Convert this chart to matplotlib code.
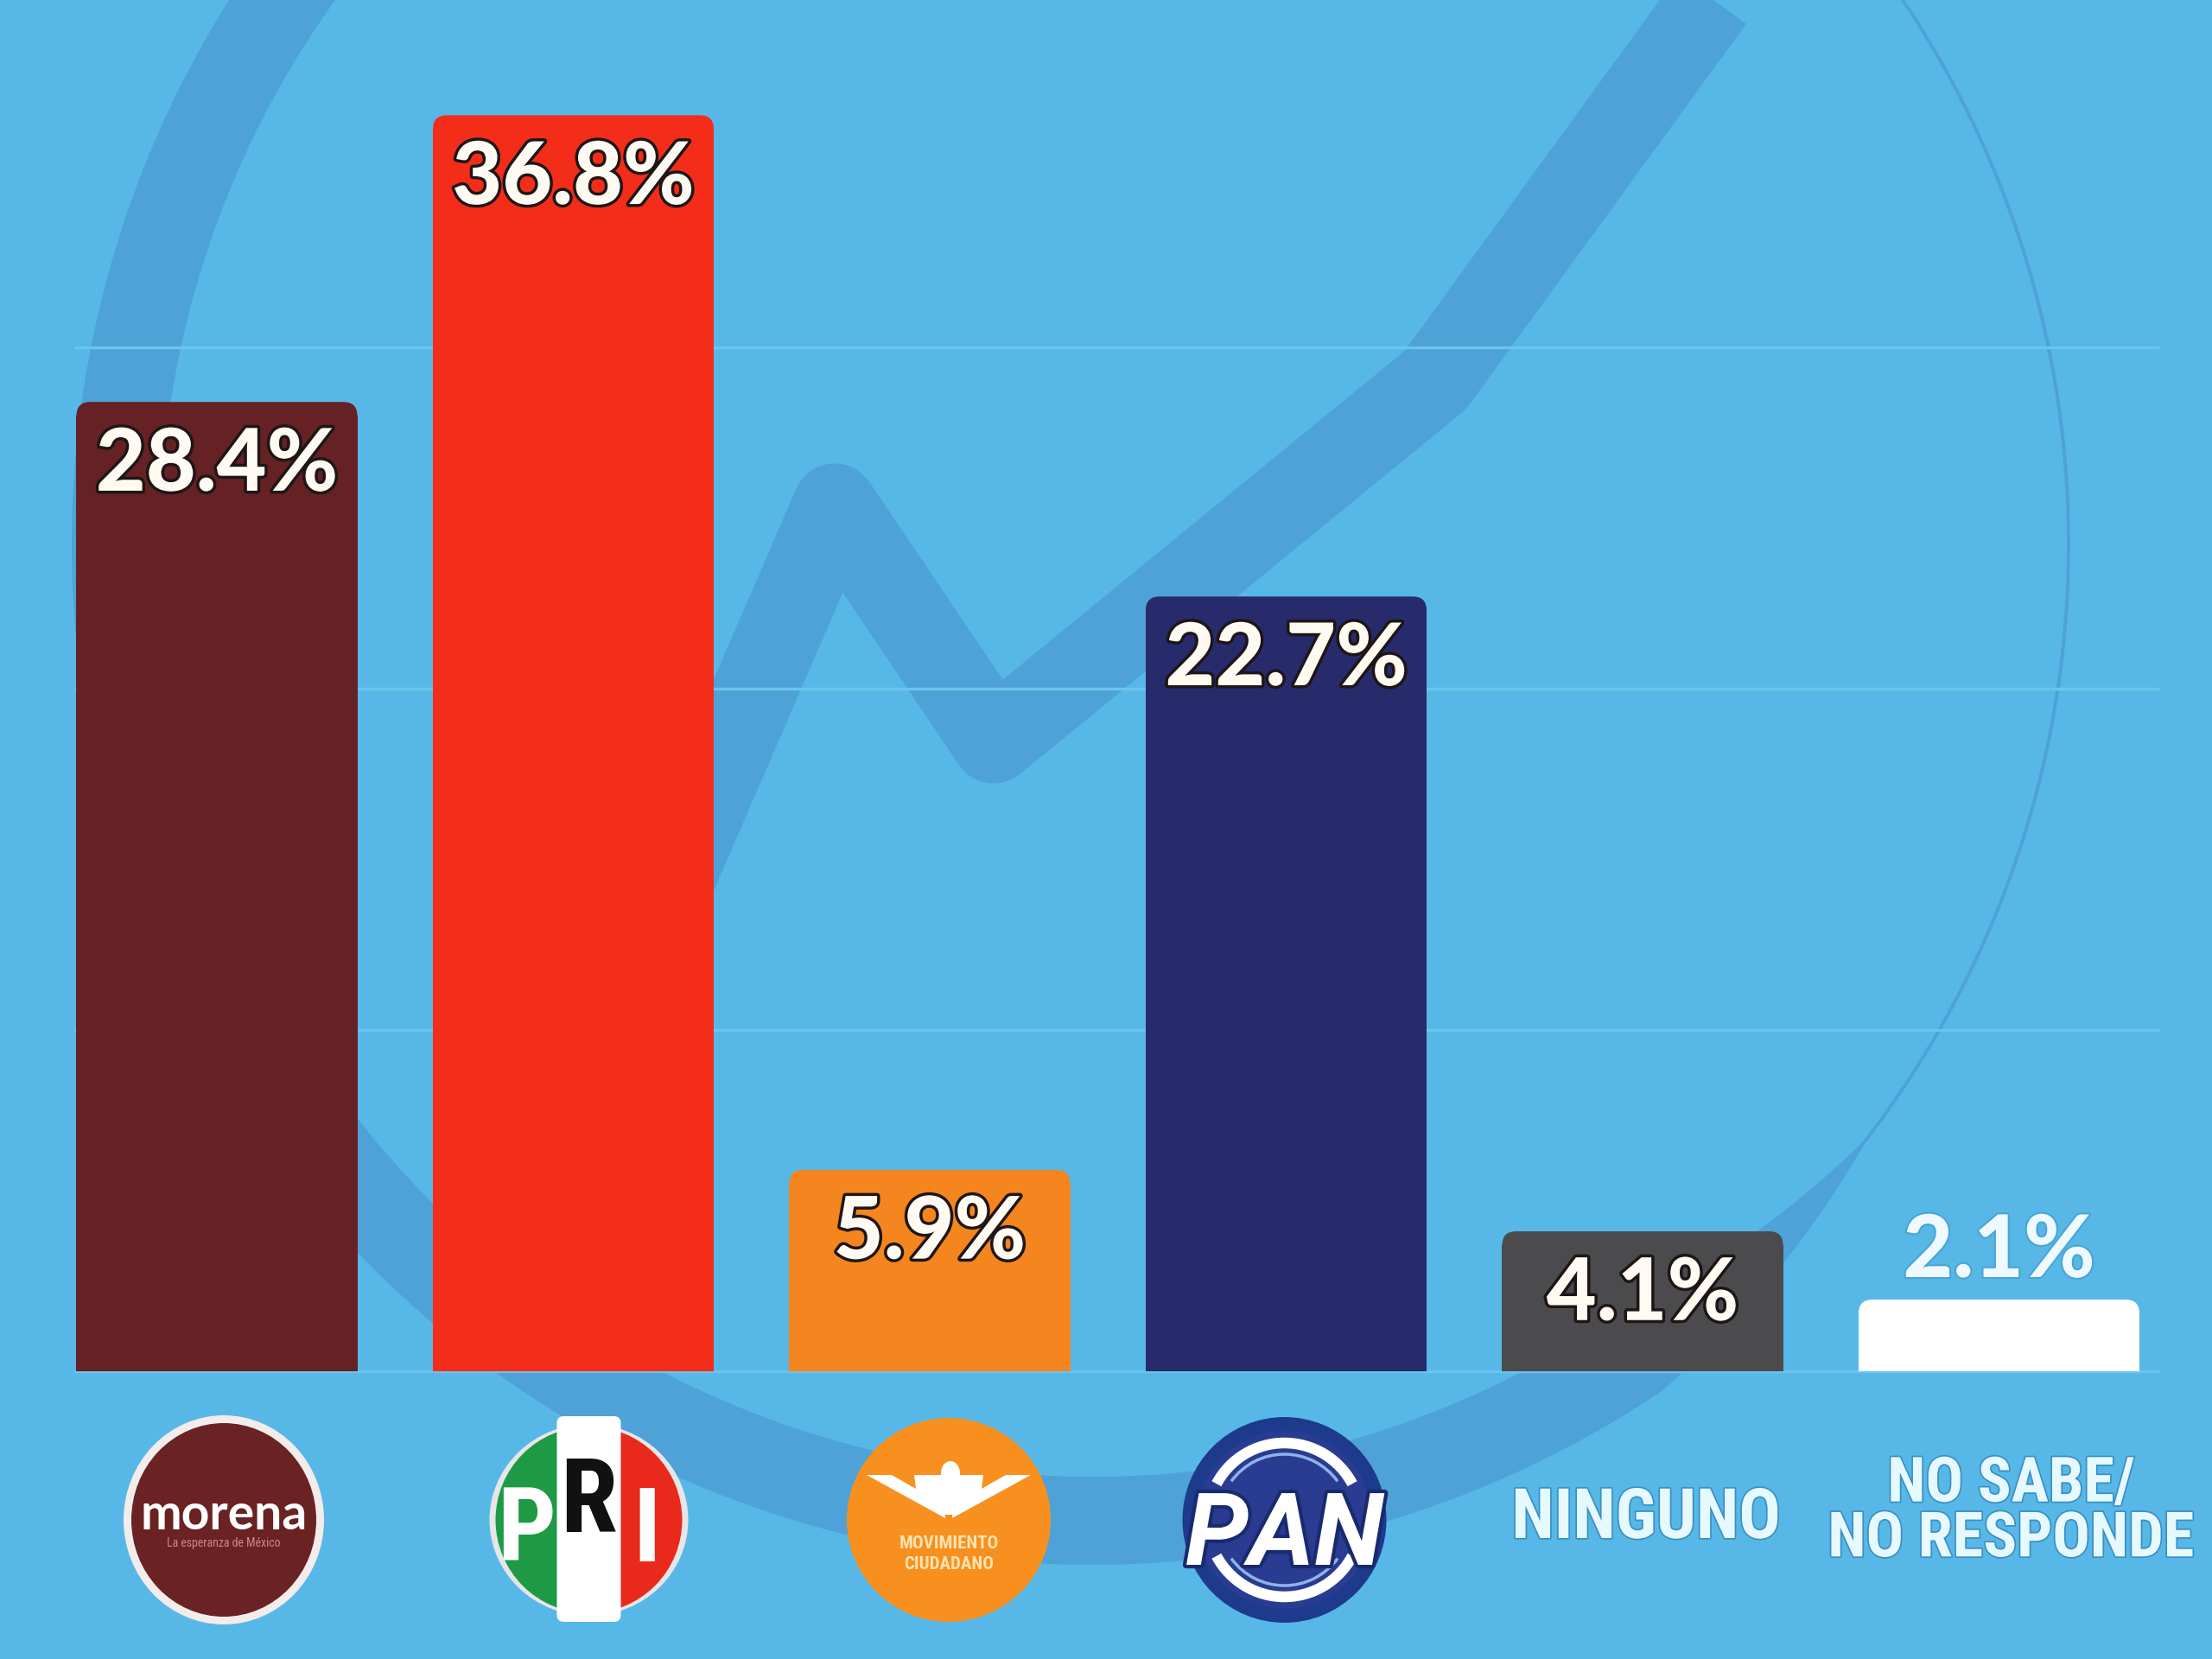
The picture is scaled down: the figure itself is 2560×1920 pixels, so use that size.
import numpy as np
import matplotlib
matplotlib.use("Agg")
import matplotlib.pyplot as plt
import matplotlib.patheffects as pe
from matplotlib import font_manager
from matplotlib.lines import Line2D
from matplotlib.patches import Ellipse, Rectangle, FancyBboxPatch, Polygon, Wedge, Arc

# data
categories = ["MORENA", "PRI", "MC", "PAN", "NINGUNO", "NO SABE/\nNO RESPONDE"]
values = [28.4, 36.8, 5.9, 22.7, 4.1, 2.1]
bar_colors = ["#652124", "#F32D1A", "#F4851F", "#272B6C", "#4B4B4D", "#FFFFFF"]
grid_values = [0, 10, 20, 30]

BG = "#57B8E8"
WM = "#4EA2D8"
GRID = "#6CC4EE"
W, H = 2560, 1920

names = {f.name for f in font_manager.fontManager.ttflist}


def pick(*cands):
    for c in cands:
        if c in names:
            return c
    return "DejaVu Sans"


LATO = pick("Lato", "Open Sans", "DejaVu Sans")
NARROW = pick("Liberation Sans Narrow", "Roboto Condensed", "Roboto")
ns = 1.0 if NARROW != "Roboto" else 0.86
ROBOTO = pick("Roboto", "Liberation Sans", "DejaVu Sans")

fig = plt.figure(figsize=(W / 100, H / 100), dpi=100)
fig.patch.set_facecolor(BG)

# background layer in pixel coords (watermark + logos)
bg = fig.add_axes([0, 0, 1, 1])
bg.set_xlim(0, W)
bg.set_ylim(H, 0)
bg.axis("off")

# main chart axes
ax = fig.add_axes([0, 0, 1, 1])
ax.patch.set_alpha(0)
ax.set_xlim(-251 / 412.5, (W - 251) / 412.5)
ax.set_ylim(-(H - 1587) / 39.5, 1587 / 39.5)
ax.axis("off")

# --- watermark: big circle stroke, thin on the right side
cx, cy, r = 1264, 630, 1130
phi = np.radians(np.linspace(-45, 225, 700))
t = np.clip((np.degrees(phi) - 38) / 18, 0, 1)
w = 4 + 98 * t
outer = np.c_[cx + (r + w / 2) * np.cos(phi), cy + (r + w / 2) * np.sin(phi)]
inner = np.c_[cx + (r - w / 2) * np.cos(phi), cy + (r - w / 2) * np.sin(phi)]
bg.add_patch(Polygon(np.vstack([outer, inner[::-1]]), closed=True, fc=WM, ec="none", zorder=1))

# check mark
chk = np.array([(700, 1200), (966, 585), (1150, 858), (1661, 440), (2010, -40)])
bg.add_line(Line2D(chk[:, 0], chk[:, 1], color=WM, lw=70, solid_joinstyle="round",
                   solid_capstyle="butt", zorder=1))

# --- grid
ax.hlines(grid_values, -0.4, 5.45, colors=GRID, lw=2.4, zorder=1)

# --- bars with rounded tops
x = np.arange(len(values))
bars = ax.bar(x, values, width=0.788, color=bar_colors, zorder=2)
rx = 16 / 412.5
ry = 16 / 39.5
for b, c in zip(bars, bar_colors):
    b.set_visible(False)
    x0, bw, bh = b.get_x(), b.get_width(), b.get_height()
    ax.add_patch(Rectangle((x0, 0), bw, bh - ry, fc=c, ec="none", zorder=2))
    ax.add_patch(FancyBboxPatch((x0, bh - 2 * ry), bw, 2 * ry,
                                boxstyle=f"round,pad=0,rounding_size={rx}",
                                mutation_aspect=ry / rx, fc=c, ec="none", zorder=2))

# --- value labels
for xi, v in zip(x, values):
    if v >= 3:
        ax.text(xi, v - 2.6, f"{v:.1f}%", ha="center", va="baseline", fontsize=72,
                family=LATO, fontweight="black", color="#FFFBF2", zorder=4,
                path_effects=[pe.withStroke(linewidth=5, foreground="#1E1616")])
    else:
        ax.text(xi, v + 0.66, f"{v:.1f}%", ha="center", va="baseline", fontsize=72,
                family=LATO, fontweight="black", color="#EEFAFF", zorder=4,
                path_effects=[pe.withStroke(linewidth=3, foreground="#4AA3D6")])


def px(i):
    return ax.transData.transform((i, 0))[0]


LY = 1759


def logo_morena(cx, cy):
    bg.add_patch(Ellipse((cx, cy), 232, 242, fc="#F2ECEC", ec="none", zorder=3))
    bg.add_patch(Ellipse((cx, cy), 214, 224, fc="#6A2222", ec="none", zorder=4))
    bg.text(cx, cy + 11, "morena", ha="center", va="baseline", fontsize=41,
            family=LATO, fontweight="bold", color="white", zorder=5)
    bg.text(cx, cy + 27, "La esperanza de México", ha="center", va="center",
            fontsize=10, family=NARROW, color="#C98A86", zorder=5)


def logo_pri(cx, cy):
    bg.add_patch(Ellipse((cx, cy), 230, 222, fc="#E6E6E6", ec="none", zorder=3))
    bg.add_patch(Wedge((cx, cy), 108, 90, 270, fc="#1E9A45", ec="none", zorder=4))
    bg.add_patch(Wedge((cx, cy), 108, -90, 90, fc="#E8291C", ec="none", zorder=4))
    bg.add_patch(FancyBboxPatch((cx - 37, cy - 120), 74, 238,
                                boxstyle="round,pad=0,rounding_size=8",
                                fc="white", ec="none", zorder=5))
    kw = dict(ha="center", va="baseline", fontsize=86 * ns, family=NARROW,
              fontweight="bold", zorder=6)
    bg.text(cx - 72, cy + 48, "P", color="white", **kw)
    bg.text(cx, cy + 14, "R", color="#111111", **kw)
    bg.text(cx + 67, cy + 48, "I", color="white", **kw)


def logo_mc(cx, cy):
    bg.add_patch(Ellipse((cx, cy), 236, 236, fc="#F7901F", ec="none", zorder=3))
    for s in (-1, 1):
        wing = np.array([(s * 95, -52), (s * 8, -52), (s * 4, -2)])
        bg.add_patch(Polygon(wing + (cx, cy), closed=True, fc="white", ec="none", zorder=4))
        notch = np.array([(s * 66, -52), (s * 40, -52), (s * 38, -36)])
        bg.add_patch(Polygon(notch + (cx, cy), closed=True, fc="#F7901F", ec="none", zorder=5))
    bg.add_patch(Ellipse((cx + 2, cy - 54), 22, 28, fc="white", ec="none", zorder=5))
    bg.add_patch(Rectangle((cx - 10, cy - 50), 20, 44, fc="white", ec="none", zorder=5))
    kw = dict(ha="center", va="center", fontsize=15 * ns, family=NARROW,
              fontweight="bold", color="#FBE3B0", zorder=5)
    bg.text(cx, cy + 28, "MOVIMIENTO", **kw)
    bg.text(cx, cy + 51, "CIUDADANO", **kw)


def logo_pan(cx, cy):
    bg.add_patch(Ellipse((cx, cy), 236, 238, fc="#1D3A8C", ec="none", zorder=3))
    bg.add_patch(Ellipse((cx, cy), 204, 206, fc="#293C92", ec="none", zorder=4))
    for t1, t2 in ((28, 152), (208, 332)):
        bg.add_patch(Arc((cx, cy), 178, 178, theta1=t1, theta2=t2, lw=9, color="white", zorder=5))
        bg.add_patch(Arc((cx, cy), 152, 152, theta1=t1 + 8, theta2=t2 - 8, lw=2.5,
                         color="#8FB3E8", zorder=5))
    bg.text(cx, cy + 52, "PAN", ha="center", va="baseline", fontsize=84, family=ROBOTO,
            fontweight="bold", style="italic", color="white", zorder=6,
            path_effects=[pe.withStroke(linewidth=6, foreground="#1A2A6E")])


logo_morena(px(0) + 8, LY)
logo_pri(px(1) + 18, LY)
logo_mc(px(2) + 22, LY)
logo_pan(px(3) - 2, LY)

cat_kw = dict(ha="center", family=NARROW, fontweight="bold",
              color="#E6F9FE", zorder=5,
              path_effects=[pe.withStroke(linewidth=2.5, foreground="#3A8FC4")])
bg.text(px(4) + 4, 1780, categories[4], va="baseline", fontsize=58 * ns, **cat_kw)
bg.text(px(5) + 14, 1750, categories[5], va="center", fontsize=52 * ns,
        multialignment="center", linespacing=0.9, **cat_kw)

fig.savefig("out.png", dpi=100, facecolor=BG)
